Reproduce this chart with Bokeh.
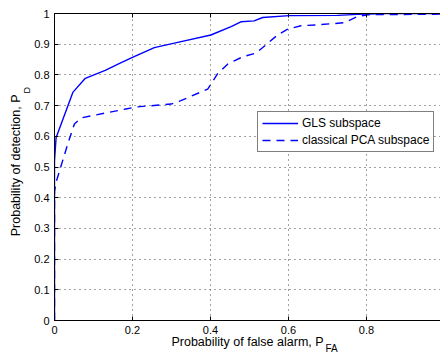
from bokeh.plotting import figure
from bokeh.models import Range1d, FixedTicker, LinearAxis, Legend, LegendItem, Title
from bokeh.embed import file_html
from bokeh.resources import INLINE

# ROC curves (probability of false alarm vs probability of detection)
gls_pfa = [0.0, 0.0, 0.004, 0.047, 0.079, 0.13, 0.171, 0.20, 0.256, 0.316, 0.401, 0.453,
           0.478, 0.512, 0.534, 0.602, 0.726, 0.777, 0.85, 1.0]
gls_pd = [0.0, 0.52, 0.595, 0.743, 0.789, 0.815, 0.84, 0.857, 0.889, 0.906, 0.930, 0.957,
          0.973, 0.976, 0.987, 0.993, 0.994, 0.997, 1.0, 1.0]

pca_pfa = [0.0, 0.0, 0.004, 0.034, 0.051, 0.068, 0.183, 0.213, 0.299, 0.324, 0.393, 0.418,
           0.444, 0.461, 0.483, 0.517, 0.534, 0.572, 0.598, 0.632, 0.675, 0.743, 0.777,
           0.803, 1.0]
pca_pd = [0.0, 0.42, 0.45, 0.575, 0.64, 0.66, 0.689, 0.696, 0.705, 0.716, 0.754, 0.803,
          0.835, 0.846, 0.859, 0.871, 0.889, 0.930, 0.949, 0.960, 0.963, 0.970, 0.990,
          0.996, 0.998]

x_ticks = [0, 0.2, 0.4, 0.6, 0.8]
x_tick_labels = ["0", "0.2", "0.4", "0.6", "0.8"]
y_ticks = [0, 0.1, 0.2, 0.3, 0.4, 0.5, 0.6, 0.7, 0.8, 0.9, 1.0]
y_tick_labels = ["0", "0.1", "0.2", "0.3", "0.4", "0.5", "0.6", "0.7", "0.8", "0.9", "1"]
series_names = ["GLS subspace", "classical PCA subspace"]
x_title, x_sub = "Probability of false alarm, P", "FA"
y_title, y_sub = "Probability of detection, P", "D"

FONT = "Liberation Sans"

p = figure(width=440, height=353, output_backend="svg", toolbar_location=None,
           x_range=Range1d(0, 0.99), y_range=Range1d(0, 1),
           min_border_left=54, min_border_right=0, min_border_top=13, min_border_bottom=33,
           x_axis_location=None, y_axis_location=None)
p.outline_line_color = None
p.background_fill_color = "white"
p.border_fill_color = "white"

def style_axis(ax, ticks, labels, show_labels=True):
    ax.ticker = FixedTicker(ticks=ticks)
    ax.major_label_overrides = {t: l for t, l in zip(ticks, labels)}
    ax.axis_line_color = "black"
    ax.axis_line_width = 1
    ax.major_tick_in = 4
    ax.major_tick_out = 0
    ax.minor_tick_line_color = None
    ax.major_tick_line_color = "black"
    ax.major_label_text_font = FONT
    ax.major_label_text_font_size = "11px" if show_labels else "1px"
    ax.major_label_text_color = "black" if show_labels else None
    ax.major_label_standoff = 5

xb = LinearAxis()
style_axis(xb, x_ticks, x_tick_labels)
p.add_layout(xb, "below")
yl = LinearAxis()
style_axis(yl, y_ticks, y_tick_labels)
p.add_layout(yl, "left")
xt = LinearAxis()
style_axis(xt, x_ticks, x_tick_labels, show_labels=False)
xt.major_label_standoff = 0
p.add_layout(xt, "above")

p.xgrid.ticker = FixedTicker(ticks=x_ticks)
p.ygrid.ticker = FixedTicker(ticks=y_ticks)
for g in (p.xgrid, p.ygrid):
    g.grid_line_color = "#444444"
    g.grid_line_dash = "1 4"
    g.grid_line_width = 1

r1 = p.line(gls_pfa, gls_pd, line_color="#0000ff", line_width=1.4)
r2 = p.line(pca_pfa, pca_pd, line_color="#0000ff", line_width=1.4, line_dash="8 6")

legend = Legend(items=[LegendItem(label=series_names[0], renderers=[r1]),
                       LegendItem(label=series_names[1], renderers=[r2])],
                location=(203, 168))
legend.label_text_font = FONT
legend.label_text_font_size = "12px"
legend.label_text_color = "black"
legend.border_line_color = "black"
legend.border_line_width = 1
legend.background_fill_color = "white"
legend.background_fill_alpha = 1
legend.padding = 4
legend.spacing = 3
legend.margin = 0
legend.glyph_width = 36
legend.glyph_height = 14
legend.label_height = 14
legend.label_standoff = 4
p.add_layout(legend, "center")

# axis titles with subscripts, stacked in the side panels
def title(text, size, align, valign, offset, standoff):
    return Title(text=text, text_font=FONT, text_font_size=size, text_font_style="normal",
                 text_color="black", align=align, vertical_align=valign,
                 offset=offset, standoff=standoff)

p.add_layout(title(x_title, "12.5px", "center", "top", 0, -4), "below")
p.add_layout(title(x_sub, "10px", "left", "top", 271, -11), "below")
p.add_layout(title(y_sub, "9px", "left", "top", 227, -4), "left")
p.add_layout(title(y_title, "12.5px", "right", "top", 81, -3), "left")

open("out.html", "w").write(file_html(p, INLINE))
